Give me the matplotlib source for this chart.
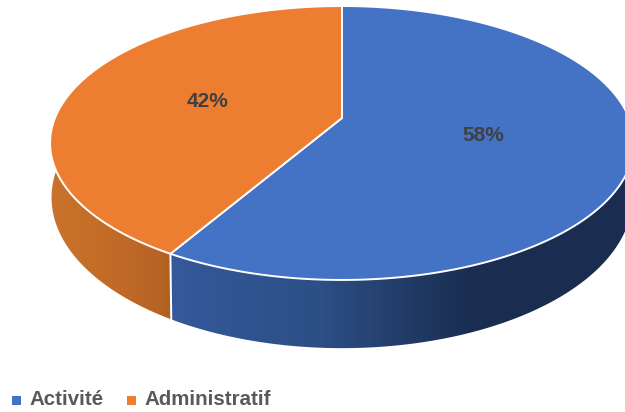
import numpy as np
import matplotlib
matplotlib.use("Agg")
import matplotlib.pyplot as plt
from matplotlib.patches import Polygon, Rectangle
from matplotlib.colors import LinearSegmentedColormap

categories = ["Activité", "Administratif"]
shares = [58.4, 41.6]
top_colors = ["#4472C4", "#ED7D31"]
side_stops = [["#35599A", "#2C4F86", "#1A2D50", "#1A2D50"], ["#C9722B", "#C56E29", "#BE6826", "#B16023"]]

W, H = 625, 412
CX, CY, A, B, P = 342, 118, 287, 132.4, 0.1825
DEPTH, SX, SY = 52, 0.995, 1.10

fig = plt.figure(figsize=(W / 100, H / 100), dpi=100)
ax = fig.add_axes([0, 0, 1, 1])
ax.set_xlim(0, W)
ax.set_ylim(H, 0)
ax.axis("off")


def project(theta, bottom=False):
    u, v = np.sin(theta), np.cos(theta)
    w = 1 + P * v
    if bottom:
        return CX + SX * A * u / w, CY + DEPTH + SY * B * (-v) / w
    return CX + A * u / w, CY + B * (-v) / w


edges = np.cumsum([0] + shares) / sum(shares) * 2 * np.pi
x_ranges = [(168, 625), (50, 175)]

# side walls
for i in range(2):
    t = np.linspace(edges[i], edges[i + 1], 500)
    xt, yt = project(t)
    xb, yb = project(t, True)
    wall = Polygon(np.r_[np.c_[xt, yt], np.c_[xb, yb][::-1]], closed=True, transform=ax.transData, fc="none", ec="none")
    ax.add_patch(wall)
    cmap = LinearSegmentedColormap.from_list("s", side_stops[i])
    grad = np.linspace(0, 1, 256)[None, :]
    x0, x1 = x_ranges[i]
    im = ax.imshow(grad, cmap=cmap, extent=[x0, x1, 360, 100], aspect="auto", zorder=2)
    im.set_clip_path(wall)
ax.set_xlim(0, W)
ax.set_ylim(H, 0)

# white seam between the two walls
x1s, y1s = project(edges[1])
x2s, y2s = project(edges[1], True)
ax.plot([x1s, x2s], [y1s, y2s], color="white", lw=1.4, zorder=3)

# top faces
label_frac = [0.485, 0.51]
for i in range(2):
    t = np.linspace(edges[i], edges[i + 1], 500)
    xt, yt = project(t)
    pts = np.r_[[[CX, CY]], np.c_[xt, yt]]
    ax.add_patch(Polygon(pts, closed=True, fc=top_colors[i], ec="white", lw=1.4, joinstyle="round", zorder=4))
    mid = (edges[i] + edges[i + 1]) / 2
    mx, my = project(mid)
    ax.text(CX + (mx - CX) * label_frac[i], CY + (my - CY) * label_frac[i], f"{shares[i]:.0f}%",
            family="Liberation Sans", weight="bold", fontsize=15,
            color="#404040", ha="center", va="center", zorder=5)

# legend
leg_x = [12, 127]
for i, name in enumerate(categories):
    ax.add_patch(Rectangle((leg_x[i], 396), 9, 9, fc=top_colors[i], ec="none", zorder=5))
    ax.text(leg_x[i] + 17, 399.5, name, family="Liberation Sans", weight="bold", fontsize=14.8,
            color="#595959", ha="left", va="center", zorder=5)

fig.savefig("out.png", dpi=100, facecolor="white")
